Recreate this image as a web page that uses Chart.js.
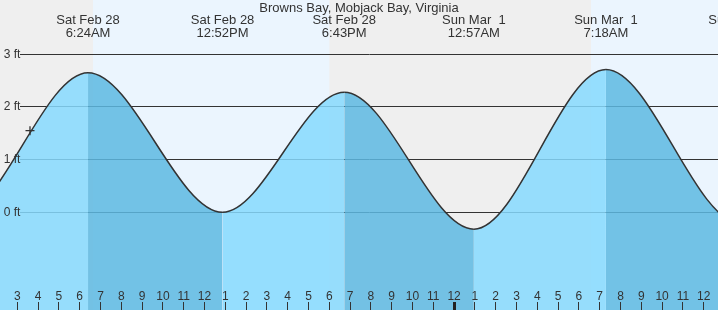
<!DOCTYPE html>
<html>
<head>
<meta charset="utf-8">
<title>Browns Bay tides</title>
<script src="https://cdn.jsdelivr.net/npm/chart.js@4.4.1/dist/chart.umd.min.js"></script>
<style>
	html, body { margin: 0; padding: 0; background: #efefef; }
	#chartBox { position: relative; width: 718px; height: 310px; }
</style>
</head>
<body>
<div id="chartBox"><canvas id="tideChart"></canvas></div>
<script>
let stationName = "Browns Bay, Mobjack Bay, Virginia";

// hours counted from Sat Feb 28 00:00, heights in ft
let tideHours = [-6.0, 0.1, 6.4, 12.867, 18.717, 24.95, 31.3, 37.75, 44.1];
let tideHeights = [2.4, -0.1, 2.65, 0.0, 2.28, -0.32, 2.71, -0.2, 2.4];

let extremeHours = [6.4, 12.867, 18.717, 24.95, 31.3, 37.75];
let extremeDays = ["Sat Feb 28", "Sat Feb 28", "Sat Feb 28", "Sun Mar  1", "Sun Mar  1", "Sun Mar  1"];
let extremeTimes = ["6:24AM", "12:52PM", "6:43PM", "12:57AM", "7:18AM", "1:45PM"];

let sunriseHours = [6.64, 30.58];
let sunsetHours = [18.0, 42.6];

let nowHour = 3.61;
let nowHeight = 1.55;

let hourTicks = [3, 4, 5, 6, 7, 8, 9, 10, 11, 12, 13, 14, 15, 16, 17, 18, 19, 20, 21, 22, 23, 24,
	25, 26, 27, 28, 29, 30, 31, 32, 33, 34, 35, 36];
let hourLabels = ["3", "4", "5", "6", "7", "8", "9", "10", "11", "12", "1", "2", "3", "4", "5", "6", "7", "8", "9", "10", "11", "12",
	"1", "2", "3", "4", "5", "6", "7", "8", "9", "10", "11", "12"];

let levelTicks = [0, 1, 2, 3];
let levelLabels = ["0 ft", "1 ft", "2 ft", "3 ft"];

let viewStart = 2.168;
let viewEnd = 36.687;
let levelMin = -1.855;
let levelMax = 4.031;
let labelEdgeHour = 3.15;

let nightColor = "#efefef";
let dayColor = "#ebf5fe";
let risingColor = "rgba(134, 217, 254, 0.85)";
let fallingColor = "rgba(93, 185, 226, 0.85)";
let inkColor = "#333333";

Chart.defaults.font.family = "'Liberation Sans', Arial, sans-serif";
Chart.defaults.color = inkColor;

function noPadding(scale) {
	scale.paddingLeft = 0;
	scale.paddingRight = 0;
	scale.paddingTop = 0;
	scale.paddingBottom = 0;
	if (scale.isHorizontal()) {
		scale.height = 0;
	} else {
		scale.width = 0;
	}
}

let dayNight = {
	id: "dayNight",
	beforeDraw(chart) {
		let ctx = chart.ctx;
		let area = chart.chartArea;
		let x = chart.scales.x;
		ctx.save();
		ctx.fillStyle = nightColor;
		ctx.fillRect(area.left, area.top, area.width, area.height);
		ctx.fillStyle = dayColor;
		for (let i = 0; i < sunriseHours.length; i++) {
			let x1 = Math.max(x.getPixelForValue(sunriseHours[i]), area.left);
			let x2 = Math.min(x.getPixelForValue(sunsetHours[i]), area.right);
			if (x2 > x1) {
				ctx.fillRect(x1, area.top, x2 - x1, area.height);
			}
		}
		ctx.restore();
	}
};

let tidePoints = tideHours.map(function (h, i) {
	return { x: h, y: tideHeights[i] };
});

let config = {
	type: "line",
	data: {
		datasets: [{
			label: "now",
			data: [{ x: nowHour, y: nowHeight }],
			showLine: false,
			pointStyle: "cross",
			pointRadius: 4.5,
			pointBorderWidth: 1.3,
			pointBorderColor: inkColor,
			fill: false
		}, {
			label: "tide",
			data: tidePoints,
			borderColor: inkColor,
			borderWidth: 1.5,
			pointRadius: 0,
			cubicInterpolationMode: "monotone",
			capBezierPoints: false,
			fill: "start",
			backgroundColor: risingColor,
			segment: {
				backgroundColor: function (ctx) {
					return ctx.p1.parsed.y > ctx.p0.parsed.y ? risingColor : fallingColor;
				}
			}
		}]
	},
	options: {
		responsive: true,
		maintainAspectRatio: false,
		animation: false,
		events: [],
		layout: { padding: 0, autoPadding: false },
		plugins: {
			legend: { display: false },
			tooltip: { enabled: false },
			title: {
				display: true,
				text: stationName,
				color: inkColor,
				font: { size: 13, weight: "normal", lineHeight: 1 },
				padding: { top: 1.7, bottom: -14.7 }
			}
		},
		scales: {
			x: {
				type: "linear",
				min: viewStart,
				max: viewEnd,
				position: { y: levelMin },
				border: { display: false },
				grid: {
					z: 1,
					drawOnChartArea: false,
					tickLength: -8,
					tickColor: function (ctx) {
						return ctx.tick && ctx.tick.value % 24 === 0 ? "#222" : inkColor;
					},
					tickWidth: function (ctx) {
						return ctx.tick && ctx.tick.value % 24 === 0 ? 3 : 1;
					}
				},
				ticks: {
					z: 1,
					autoSkip: false,
					maxRotation: 0,
					padding: -11,
					font: { size: 12, lineHeight: 1 },
					callback: function (value, index) {
						return hourLabels[index];
					}
				},
				afterBuildTicks: function (scale) {
					scale.ticks = hourTicks.map(function (v) { return { value: v }; });
				},
				afterFit: noPadding
			},
			top: {
				type: "linear",
				axis: "x",
				min: viewStart,
				max: viewEnd,
				position: { y: levelMax },
				border: { display: false },
				grid: { display: false, drawTicks: false },
				ticks: {
					autoSkip: false,
					maxRotation: 0,
					padding: 14,
					font: { size: 13, lineHeight: 1 },
					callback: function (value, index) {
						return [extremeDays[index], extremeTimes[index]];
					}
				},
				afterBuildTicks: function (scale) {
					scale.ticks = extremeHours.map(function (v) { return { value: v }; });
				},
				afterFit: noPadding
			},
			y: {
				type: "linear",
				min: levelMin,
				max: levelMax,
				position: { x: labelEdgeHour },
				border: { display: false },
				grid: {
					drawOnChartArea: false,
					tickLength: -700,
					tickColor: inkColor,
					tickWidth: 1
				},
				ticks: {
					z: 1,
					padding: 0,
					font: { size: 12 },
					callback: function (value, index) {
						return levelLabels[index];
					}
				},
				afterBuildTicks: function (scale) {
					scale.ticks = levelTicks.map(function (v) { return { value: v }; });
				},
				afterFit: noPadding
			}
		}
	},
	plugins: [dayNight]
};

let tideChart = new Chart(document.getElementById("tideChart"), config);
</script>
</body>
</html>
